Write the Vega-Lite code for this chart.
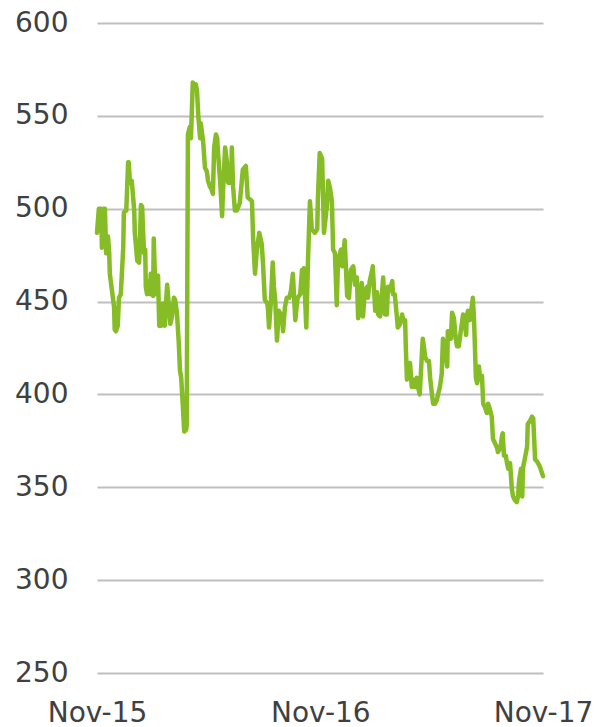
{
  "$schema": "https://vega.github.io/schema/vega-lite/v6.json",
  "width": 446,
  "height": 650,
  "autosize": "none",
  "padding": {"left": 97, "top": 23, "right": 55, "bottom": 54},
  "background": "white",
  "config": {"view": {"stroke": null}, "font": "DejaVu Sans"},
  "data": {"values": [
    {"date":"2015-11-01","value":487},{"date":"2015-11-04","value":500},{"date":"2015-11-08","value":500},{"date":"2015-11-09","value":479},
    {"date":"2015-11-12","value":500},{"date":"2015-11-14","value":500},{"date":"2015-11-16","value":476},{"date":"2015-11-19","value":485},
    {"date":"2015-11-21","value":476},{"date":"2015-11-22","value":465},{"date":"2015-11-29","value":447},{"date":"2015-11-30","value":435},
    {"date":"2015-12-02","value":434},{"date":"2015-12-05","value":437},{"date":"2015-12-07","value":452},{"date":"2015-12-10","value":454},
    {"date":"2015-12-14","value":479},{"date":"2015-12-15","value":498},{"date":"2015-12-19","value":499},{"date":"2015-12-22","value":525},
    {"date":"2015-12-23","value":525},{"date":"2015-12-25","value":514},{"date":"2015-12-28","value":515},{"date":"2016-01-01","value":499},
    {"date":"2016-01-02","value":487},{"date":"2016-01-06","value":472},{"date":"2016-01-09","value":471},{"date":"2016-01-10","value":478},
    {"date":"2016-01-12","value":502},{"date":"2016-01-14","value":501},{"date":"2016-01-17","value":476},{"date":"2016-01-19","value":478},
    {"date":"2016-01-20","value":458},{"date":"2016-01-22","value":454},{"date":"2016-01-25","value":461},{"date":"2016-01-27","value":454},
    {"date":"2016-01-28","value":465},{"date":"2016-02-01","value":453},{"date":"2016-02-02","value":484},{"date":"2016-02-04","value":463},
    {"date":"2016-02-06","value":454},{"date":"2016-02-09","value":464},{"date":"2016-02-11","value":437},{"date":"2016-02-12","value":449},
    {"date":"2016-02-14","value":437},{"date":"2016-02-17","value":449},{"date":"2016-02-20","value":437},{"date":"2016-02-22","value":449},
    {"date":"2016-02-24","value":459},{"date":"2016-02-27","value":447},{"date":"2016-02-29","value":438},{"date":"2016-03-03","value":442},
    {"date":"2016-03-06","value":452},{"date":"2016-03-08","value":451},{"date":"2016-03-11","value":444},{"date":"2016-03-14","value":428},
    {"date":"2016-03-16","value":413},{"date":"2016-03-18","value":409},{"date":"2016-03-21","value":392},{"date":"2016-03-23","value":380},
    {"date":"2016-03-26","value":381},{"date":"2016-03-27","value":383},{"date":"2016-03-29","value":540},{"date":"2016-04-01","value":544},
    {"date":"2016-04-03","value":538},{"date":"2016-04-06","value":568},{"date":"2016-04-08","value":566},{"date":"2016-04-11","value":567},
    {"date":"2016-04-13","value":563},{"date":"2016-04-15","value":550},{"date":"2016-04-18","value":538},{"date":"2016-04-19","value":546},
    {"date":"2016-04-23","value":536},{"date":"2016-04-26","value":522},{"date":"2016-04-29","value":520},{"date":"2016-05-01","value":515},
    {"date":"2016-05-04","value":512},{"date":"2016-05-06","value":511},{"date":"2016-05-09","value":508},{"date":"2016-05-11","value":533},
    {"date":"2016-05-14","value":540},{"date":"2016-05-16","value":538},{"date":"2016-05-17","value":532},{"date":"2016-05-21","value":514},
    {"date":"2016-05-24","value":496},{"date":"2016-05-25","value":505},{"date":"2016-05-29","value":533},{"date":"2016-06-01","value":525},
    {"date":"2016-06-03","value":514},{"date":"2016-06-08","value":514},{"date":"2016-06-09","value":533},{"date":"2016-06-11","value":512},
    {"date":"2016-06-14","value":499},{"date":"2016-06-17","value":499},{"date":"2016-06-22","value":503},{"date":"2016-06-27","value":521},
    {"date":"2016-07-02","value":523},{"date":"2016-07-05","value":506},{"date":"2016-07-09","value":505},{"date":"2016-07-12","value":504},
    {"date":"2016-07-14","value":483},{"date":"2016-07-17","value":465},{"date":"2016-07-20","value":478},{"date":"2016-07-24","value":487},
    {"date":"2016-07-28","value":481},{"date":"2016-07-30","value":471},{"date":"2016-08-02","value":451},{"date":"2016-08-06","value":449},
    {"date":"2016-08-07","value":447},{"date":"2016-08-09","value":436},{"date":"2016-08-12","value":450},{"date":"2016-08-15","value":471},
    {"date":"2016-08-17","value":458},{"date":"2016-08-19","value":451},{"date":"2016-08-22","value":429},{"date":"2016-08-25","value":445},
    {"date":"2016-08-30","value":442},{"date":"2016-09-01","value":434},{"date":"2016-09-04","value":447},{"date":"2016-09-07","value":452},
    {"date":"2016-09-11","value":452},{"date":"2016-09-14","value":456},{"date":"2016-09-17","value":465},{"date":"2016-09-21","value":440},
    {"date":"2016-09-24","value":450},{"date":"2016-09-25","value":452},{"date":"2016-09-29","value":454},{"date":"2016-10-02","value":467},
    {"date":"2016-10-04","value":455},{"date":"2016-10-05","value":468},{"date":"2016-10-09","value":436},{"date":"2016-10-12","value":474},
    {"date":"2016-10-15","value":504},{"date":"2016-10-18","value":489},{"date":"2016-10-23","value":487},{"date":"2016-10-27","value":489},
    {"date":"2016-10-28","value":505},{"date":"2016-10-31","value":530},{"date":"2016-11-04","value":527},{"date":"2016-11-07","value":487},
    {"date":"2016-11-12","value":502},{"date":"2016-11-14","value":515},{"date":"2016-11-17","value":511},{"date":"2016-11-20","value":504},
    {"date":"2016-11-22","value":478},{"date":"2016-11-25","value":476},{"date":"2016-11-28","value":448},{"date":"2016-11-30","value":472},
    {"date":"2016-12-05","value":478},{"date":"2016-12-07","value":469},{"date":"2016-12-11","value":483},{"date":"2016-12-15","value":453},
    {"date":"2016-12-18","value":452},{"date":"2016-12-21","value":467},{"date":"2016-12-25","value":469},{"date":"2016-12-28","value":459},
    {"date":"2016-12-31","value":463},{"date":"2017-01-02","value":441},{"date":"2017-01-05","value":445},{"date":"2017-01-08","value":460},
    {"date":"2017-01-10","value":442},{"date":"2017-01-13","value":456},{"date":"2017-01-17","value":458},{"date":"2017-01-18","value":452},
    {"date":"2017-01-21","value":461},{"date":"2017-01-25","value":467},{"date":"2017-01-26","value":469},{"date":"2017-01-30","value":445},
    {"date":"2017-02-02","value":455},{"date":"2017-02-04","value":443},{"date":"2017-02-07","value":442},{"date":"2017-02-10","value":454},
    {"date":"2017-02-12","value":463},{"date":"2017-02-15","value":443},{"date":"2017-02-18","value":443},{"date":"2017-02-20","value":458},
    {"date":"2017-02-23","value":456},{"date":"2017-02-27","value":461},{"date":"2017-02-28","value":454},{"date":"2017-03-03","value":454},
    {"date":"2017-03-07","value":440},{"date":"2017-03-08","value":436},{"date":"2017-03-12","value":438},{"date":"2017-03-15","value":443},
    {"date":"2017-03-17","value":440},{"date":"2017-03-20","value":440},{"date":"2017-03-21","value":427},{"date":"2017-03-23","value":408},
    {"date":"2017-03-26","value":413},{"date":"2017-03-28","value":417},{"date":"2017-03-31","value":404},{"date":"2017-04-02","value":408},
    {"date":"2017-04-05","value":404},{"date":"2017-04-08","value":409},{"date":"2017-04-10","value":404},{"date":"2017-04-13","value":400},
    {"date":"2017-04-17","value":425},{"date":"2017-04-18","value":430},{"date":"2017-04-22","value":420},{"date":"2017-04-25","value":418},
    {"date":"2017-04-28","value":418},{"date":"2017-04-30","value":409},{"date":"2017-05-03","value":400},{"date":"2017-05-05","value":395},
    {"date":"2017-05-08","value":395},{"date":"2017-05-11","value":397},{"date":"2017-05-13","value":400},{"date":"2017-05-16","value":404},
    {"date":"2017-05-19","value":411},{"date":"2017-05-21","value":430},{"date":"2017-05-24","value":426},{"date":"2017-05-28","value":415},
    {"date":"2017-05-29","value":434},{"date":"2017-05-31","value":434},{"date":"2017-06-03","value":430},{"date":"2017-06-05","value":444},
    {"date":"2017-06-08","value":441},{"date":"2017-06-11","value":430},{"date":"2017-06-13","value":426},{"date":"2017-06-16","value":426},
    {"date":"2017-06-20","value":436},{"date":"2017-06-23","value":443},{"date":"2017-06-25","value":441},{"date":"2017-06-28","value":432},
    {"date":"2017-06-29","value":442},{"date":"2017-07-01","value":445},{"date":"2017-07-04","value":440},{"date":"2017-07-08","value":449},
    {"date":"2017-07-09","value":452},{"date":"2017-07-11","value":440},{"date":"2017-07-14","value":409},{"date":"2017-07-16","value":406},
    {"date":"2017-07-19","value":415},{"date":"2017-07-21","value":408},{"date":"2017-07-24","value":410},{"date":"2017-07-26","value":395},
    {"date":"2017-07-29","value":393},{"date":"2017-08-01","value":390},{"date":"2017-08-03","value":395},{"date":"2017-08-06","value":392},
    {"date":"2017-08-09","value":388},{"date":"2017-08-11","value":376},{"date":"2017-08-14","value":374},{"date":"2017-08-18","value":371},
    {"date":"2017-08-19","value":369},{"date":"2017-08-23","value":371},{"date":"2017-08-26","value":378},{"date":"2017-08-27","value":379},
    {"date":"2017-08-29","value":367},{"date":"2017-09-01","value":367},{"date":"2017-09-03","value":363},{"date":"2017-09-05","value":360},
    {"date":"2017-09-08","value":363},{"date":"2017-09-11","value":349},{"date":"2017-09-13","value":345},{"date":"2017-09-16","value":343},
    {"date":"2017-09-19","value":342},{"date":"2017-09-21","value":345},{"date":"2017-09-23","value":354},{"date":"2017-09-26","value":360},
    {"date":"2017-09-28","value":345},{"date":"2017-09-29","value":360},{"date":"2017-10-02","value":365},{"date":"2017-10-06","value":372},
    {"date":"2017-10-07","value":384},{"date":"2017-10-11","value":386},{"date":"2017-10-14","value":388},{"date":"2017-10-16","value":387},
    {"date":"2017-10-19","value":365},{"date":"2017-10-22","value":364},{"date":"2017-10-24","value":363},{"date":"2017-10-27","value":361},
    {"date":"2017-10-30","value":358},{"date":"2017-11-01","value":356}
  ]},
  "mark": {"type": "line", "color": "#86BC25", "strokeWidth": 4.5, "strokeJoin": "round", "strokeCap": "round"},
  "encoding": {
    "x": {
      "field": "date", "type": "temporal",
      "scale": {"type": "utc", "domain": [{"year": 2015, "month": 11, "date": 1, "utc": true}, {"year": 2017, "month": 11, "date": 1, "utc": true}]},
      "axis": {
        "title": null,
        "values": [{"year": 2015, "month": 11, "date": 1, "utc": true}, {"year": 2016, "month": 11, "date": 1, "utc": true}, {"year": 2017, "month": 11, "date": 1, "utc": true}],
        "format": "%b-%y",
        "grid": false, "domain": false, "ticks": false, "tickSize": 0,
        "labelPadding": 26, "labelFontSize": 28, "labelColor": "#404040", "labelFont": "DejaVu Sans",
        "labelFlush": false, "labelOverlap": false
      }
    },
    "y": {
      "field": "value", "type": "quantitative",
      "scale": {"domain": [250, 600], "nice": false, "zero": false},
      "axis": {
        "title": null,
        "values": [250, 300, 350, 400, 450, 500, 550, 600],
        "domain": false, "ticks": false, "tickSize": 0,
        "labelPadding": 29, "labelFontSize": 28, "labelColor": "#404040", "labelFont": "DejaVu Sans",
        "gridColor": "#bfbfbf", "gridWidth": 2
      }
    }
  }
}
